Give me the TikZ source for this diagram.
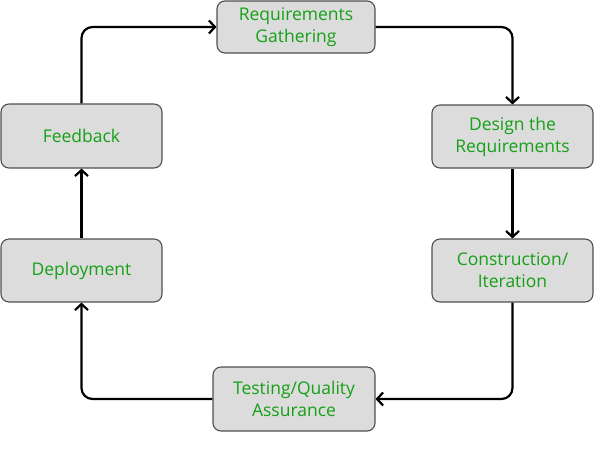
\documentclass[tikz,border=0pt]{standalone}
\usepackage{fontspec}
\setmainfont{Open Sans}
\usetikzlibrary{arrows.meta}
\definecolor{txtgreen}{HTML}{15A015}
\definecolor{boxfill}{HTML}{DCDCDC}
\definecolor{boxdraw}{HTML}{505050}
\tikzset{
  stage/.style={draw=boxdraw, fill=boxfill, line width=1.1pt, rounded corners=8pt,
    text=txtgreen, align=center, inner sep=0pt,
    font=\fontsize{17.5}{22}\selectfont},
  flow/.style={line width=2.2pt, rounded corners=11pt,
    -{Straight Barb[length=6pt,width=13pt,line width=2.2pt]}}
}
\begin{document}
\begin{tikzpicture}[x=1pt,y=-1pt]
\useasboundingbox (0,0) rectangle (594,467);
\node[stage, minimum width=158pt, minimum height=52pt] (req) at (296,27) {Requirements\\Gathering};
\node[stage, minimum width=161pt, minimum height=63pt] (des) at (512.5,136.5) {Design the\\Requirements};
\node[stage, minimum width=161pt, minimum height=63pt] (con) at (512.5,270.5) {Construction/\\Iteration};
\node[stage, minimum width=162pt, minimum height=64pt] (tst) at (294,399) {Testing/Quality\\Assurance};
\node[stage, minimum width=161pt, minimum height=63pt] (dep) at (81.5,270.5) {Deployment};
\node[stage, minimum width=161pt, minimum height=64pt] (fb) at (81.5,136) {Feedback};
\draw[flow] (req.east) -| (des.north);
\draw[flow] (des.south) -- (con.north);
\draw[flow] (con.south) |- (tst.east);
\draw[flow] (tst.west) -| (dep.south);
\draw[flow] (dep.north) -- (fb.south);
\draw[flow] (fb.north) |- (req.west);
\end{tikzpicture}
\end{document}
